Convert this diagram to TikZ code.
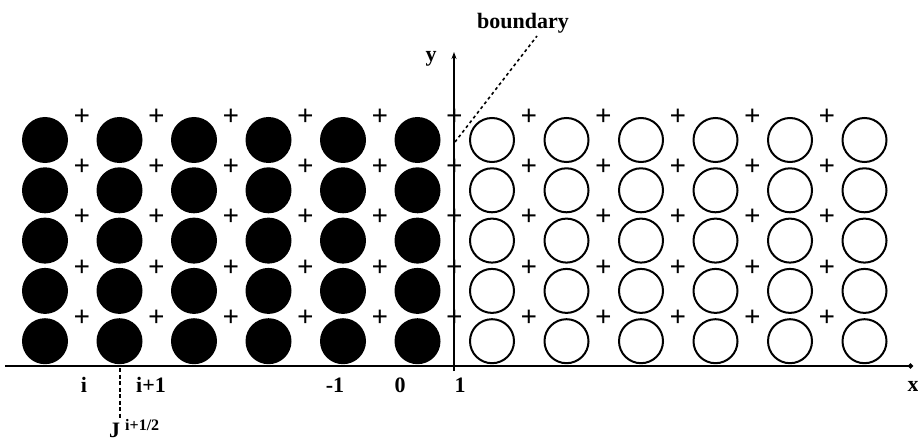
\documentclass[tikz,border=0pt]{standalone}
\usepackage{fontspec}
\setmainfont{Liberation Serif}
\usetikzlibrary{arrows.meta}
\definecolor{ink}{HTML}{000000}
\tikzset{
  solid cell/.style={circle,fill=ink,minimum size=46pt,inner sep=0pt},
  open cell/.style={circle,draw=ink,line width=2pt,minimum size=44pt,inner sep=0pt},
  cross/.style={inner sep=0pt,font=\bfseries\fontsize{29}{29}\selectfont},
  axislabel/.style={inner sep=0pt,font=\bfseries\fontsize{22}{22}\selectfont}
}

\begin{document}
\begin{tikzpicture}[x=1pt,y=-1pt,color=ink]
  \useasboundingbox (0,0) rectangle (918,441);
  % cells, filled left of the boundary
  \foreach \k in {0,...,11} {
    \foreach \r in {0,...,4} {
      \ifnum\k<6
        \node[solid cell] (cell-\k-\r) at ({45+74.5*\k},{140+50.3*\r}) {};
      \else
        \node[open cell] (cell-\k-\r) at ({45+74.5*\k},{140+50.3*\r}) {};
      \fi
    }
  }
  % half-cell points
  \foreach \k in {0,...,10} {
    \foreach \r in {0,...,4} {
      \node[cross] (half-\k-\r) at ({82+74.5*\k},{117+50.3*\r}) {+};
    }
  }
  % axes
  \coordinate (xstart) at (5,366);
  \coordinate (xend) at (913,366);
  \coordinate (ybot) at (454,371);
  \coordinate (ytop) at (454,52);
  \draw[line width=2.2pt,-{Circle[length=5pt]}] (xstart) -- (xend);
  \draw[line width=1.6pt,-{Stealth[length=7pt,width=5pt]}] (ybot) -- (ytop);
  \node[axislabel] (xlab) at (913,386) {x};
  \node[axislabel] (ylab) at (431,59) {y};
  \foreach \x/\lab/\nm in {84/i/ia,151/i+1/ib,335/-1/im,400/0/iz,460/1/io} {
    \node[axislabel] (idx-\nm) at (\x,385) {\lab};
  }
  % interface i+1/2
  \coordinate (face) at (120,368);
  \coordinate (face-end) at (120,418);
  \draw[line width=1.5pt,dash pattern=on 4pt off 2.5pt] (face) -- (face-end);
  \node[axislabel,anchor=base west] (flux) at (109,437)
    {J\hspace{5pt}\raisebox{7pt}{\fontsize{16}{16}\selectfont i+1/2}};
  % boundary
  \node[axislabel] (boundary) at (523,23) {boundary};
  \coordinate (bfoot) at (455,142);
  \coordinate (btop) at (537,36);
  \draw[line width=1.6pt,dash pattern=on 3pt off 3pt] (bfoot) -- (btop);
\end{tikzpicture}
\end{document}
